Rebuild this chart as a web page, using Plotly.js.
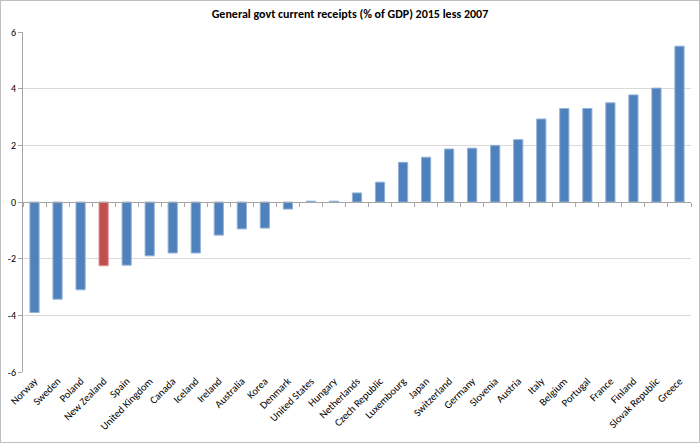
<!DOCTYPE html>
<html><head><meta charset="utf-8">
<script src="https://cdn.plot.ly/plotly-3.0.1.min.js"></script>
<style>html,body{margin:0;padding:0;background:#fff}#chart{width:700px;height:443px;box-sizing:border-box;border:1px solid #BFBFBF}</style>
</head><body><div id="chart"></div>
<script>
const countries = ["Norway","Sweden","Poland","New Zealand","Spain","United Kingdom","Canada","Iceland","Ireland","Australia","Korea","Denmark","United States","Hungary","Netherlands","Czech Republic","Luxembourg","Japan","Switzerland","Germany","Slovenia","Austria","Italy","Belgium","Portugal","France","Finland","Slovak Republic","Greece"];
const values = [-3.9,-3.43,-3.1,-2.25,-2.23,-1.9,-1.8,-1.8,-1.17,-0.95,-0.92,-0.25,0.03,0.03,0.32,0.7,1.4,1.58,1.87,1.9,2.0,2.2,2.93,3.3,3.3,3.5,3.78,4.02,5.5];
const highlight = "New Zealand";
const yTicks = [-6,-4,-2,0,2,4,6];
const titleText = "General govt current receipts (% of GDP) 2015 less 2007";

const colors = countries.map(c => c === highlight ? "#C0504D" : "#4F81BD");
const lineColors = countries.map(c => c === highlight ? "#D99694" : "#95B3D7");
const font = "Carlito, Calibri, Lato, 'Open Sans', sans-serif";

const traces = [
  {type:"bar", x:countries, y:values, marker:{color:colors, line:{color:lineColors, width:1}}, hoverinfo:"x+y", showlegend:false},
  {type:"scatter", x:countries, y:values, xaxis:"x2", mode:"none", hoverinfo:"skip", showlegend:false}
];
const layout = {
  width:698, height:441,
  margin:{l:22, r:8, t:31, b:70},
  paper_bgcolor:"#fff", plot_bgcolor:"#fff",
  bargap:0.6,
  font:{family:font, size:10, color:"#404040"},
  title:{text:"<b>"+titleText+"</b>", x:0.5, xanchor:"center", y:0.97, yanchor:"middle", font:{family:font, size:12, color:"#000"}},
  xaxis:{type:"category", range:[-0.5, countries.length-0.5], anchor:"free", position:0.5, showticklabels:false,
    ticks:"outside", tickson:"boundaries", ticklen:4, tickcolor:"#A6A6A6", showline:true, linecolor:"#A6A6A6", linewidth:1, showgrid:false, zeroline:false, fixedrange:true},
  xaxis2:{type:"category", overlaying:"x", anchor:"y", side:"bottom", range:[-0.5, countries.length-0.5], tickangle:-45, ticks:"", showline:false, showgrid:false, zeroline:false,
    tickfont:{family:font, size:10.5, color:"#000"}},
  yaxis:{range:[-6,6], tickvals:yTicks, ticktext:yTicks.map(String), showgrid:true, gridcolor:"#D9D9D9", gridwidth:1, zeroline:false,
    showline:true, linecolor:"#A6A6A6", ticks:"outside", ticklen:4, tickcolor:"#A6A6A6", tickfont:{family:font, size:10, color:"#000"}, fixedrange:true}
};
Plotly.newPlot("chart", traces, layout, {displayModeBar:false, staticPlot:true});
</script></body></html>
